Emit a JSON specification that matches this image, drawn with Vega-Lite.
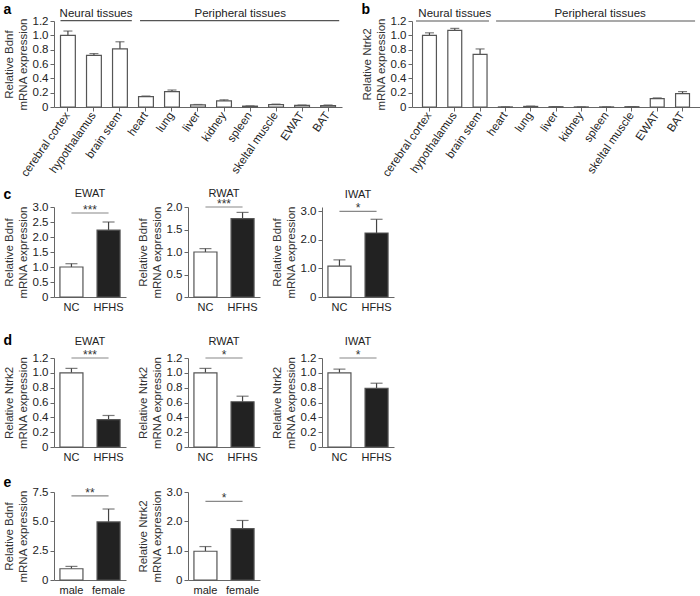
{
  "$schema": "https://vega.github.io/schema/vega-lite/v6.json",
  "padding": {"left": 3, "top": 2, "right": 2, "bottom": 2},
  "background": "white",
  "config": {
    "font": "Liberation Sans",
    "view": {"stroke": null},
    "axis": {"labelFont": "Liberation Sans", "labelFontSize": 11, "labelColor": "#222", "titleFont": "Liberation Sans", "titleFontSize": 11.5, "titleFontWeight": "normal", "titleColor": "#333", "domainColor": "#666", "tickColor": "#666", "grid": false, "tickSize": 4, "labelPadding": 2, "titlePadding": 4, "titleLineHeight": 13},
    "axisY": {"labelFontSize": 11.5, "titleFontSize": 11.5, "titleLineHeight": 13.5, "tickCount": 20},
    "title": {"font": "Liberation Sans", "fontSize": 11, "fontWeight": "normal", "color": "#222"}
  },
  "datasets": {
    "A": [
      {"tissue": "cerebral cortex", "mean": 1.0, "upper": 1.06},
      {"tissue": "hypothalamus", "mean": 0.72, "upper": 0.745},
      {"tissue": "brain stem", "mean": 0.81, "upper": 0.91},
      {"tissue": "heart", "mean": 0.144, "upper": 0.153},
      {"tissue": "lung", "mean": 0.214, "upper": 0.237},
      {"tissue": "liver", "mean": 0.03, "upper": 0.035},
      {"tissue": "kidney", "mean": 0.085, "upper": 0.1},
      {"tissue": "spleen", "mean": 0.012, "upper": 0.015},
      {"tissue": "skeltal muscle", "mean": 0.032, "upper": 0.04},
      {"tissue": "EWAT", "mean": 0.022, "upper": 0.027},
      {"tissue": "BAT", "mean": 0.018, "upper": 0.028}
    ],
    "B": [
      {"tissue": "cerebral cortex", "mean": 1.0, "upper": 1.035},
      {"tissue": "hypothalamus", "mean": 1.068, "upper": 1.097},
      {"tissue": "brain stem", "mean": 0.735, "upper": 0.81},
      {"tissue": "heart", "mean": 0.001, "upper": 0.002},
      {"tissue": "lung", "mean": 0.008, "upper": 0.012},
      {"tissue": "liver", "mean": 0.004, "upper": 0.006},
      {"tissue": "kidney", "mean": 0.001, "upper": 0.002},
      {"tissue": "spleen", "mean": 0.001, "upper": 0.002},
      {"tissue": "skeltal muscle", "mean": 0.004, "upper": 0.006},
      {"tissue": "EWAT", "mean": 0.117, "upper": 0.127},
      {"tissue": "BAT", "mean": 0.187, "upper": 0.215}
    ],
    "grp": [
      {"start": "cerebral cortex", "end": "brain stem", "mid": "hypothalamus", "label": "Neural tissues"},
      {"start": "heart", "end": "BAT", "mid": "kidney", "label": "Peripheral tissues"}
    ],
    "cE": [{"group": "NC", "mean": 1.0, "upper": 1.11}, {"group": "HFHS", "mean": 2.23, "upper": 2.5}],
    "cR": [{"group": "NC", "mean": 1.0, "upper": 1.075}, {"group": "HFHS", "mean": 1.74, "upper": 1.88}],
    "cI": [{"group": "NC", "mean": 1.08, "upper": 1.3}, {"group": "HFHS", "mean": 2.24, "upper": 2.72}],
    "dE": [{"group": "NC", "mean": 1.0, "upper": 1.06}, {"group": "HFHS", "mean": 0.37, "upper": 0.425}],
    "dR": [{"group": "NC", "mean": 1.0, "upper": 1.06}, {"group": "HFHS", "mean": 0.61, "upper": 0.685}],
    "dI": [{"group": "NC", "mean": 1.0, "upper": 1.05}, {"group": "HFHS", "mean": 0.79, "upper": 0.86}],
    "eB": [{"group": "male", "mean": 0.96, "upper": 1.16}, {"group": "female", "mean": 4.95, "upper": 6.05}],
    "eN": [{"group": "male", "mean": 0.98, "upper": 1.14}, {"group": "female", "mean": 1.75, "upper": 2.03}],
    "s3": [{"g1": "NC", "g2": "HFHS", "label": "***"}],
    "s1": [{"g1": "NC", "g2": "HFHS", "label": "*"}],
    "m2": [{"g1": "male", "g2": "female", "label": "**"}],
    "m1": [{"g1": "male", "g2": "female", "label": "*"}]
  },
  "spacing": 9,
  "vconcat": [
    {
      "hconcat": [
        {
          "width": 288, "height": 86,
          "title": {"text": "a", "anchor": "start", "fontWeight": "bold", "fontSize": 14, "color": "#000", "offset": -9},
          "layer": [
            {"data": {"name": "A"}, "mark": {"type": "rule", "color": "#444", "strokeWidth": 1.2},
             "encoding": {
               "x": {"field": "tissue", "type": "nominal", "scale": {"domain": ["cerebral cortex","hypothalamus","brain stem","heart","lung","liver","kidney","spleen","skeltal muscle","EWAT","BAT"], "paddingInner": 0.43, "paddingOuter": 0.25}, "axis": {"title": null, "labelAngle": -55, "labelFontSize": 11.5}},
               "y": {"field": "mean", "type": "quantitative", "scale": {"domain": [0, 1.2], "nice": false}, "axis": {"values": [0, 0.2, 0.4, 0.6, 0.8, 1.0, 1.2], "tickCount": 20, "labelExpr": "datum.value === 0 ? '0' : format(datum.value, '.1f')", "title": ["Relative Bdnf", "mRNA expression"]}},
               "y2": {"field": "upper"}}},
            {"data": {"name": "A"}, "mark": {"type": "tick", "color": "#444", "thickness": 1.2, "size": 9},
             "encoding": {"x": {"field": "tissue", "type": "nominal"}, "y": {"field": "upper", "type": "quantitative"}}},
            {"data": {"name": "A"}, "mark": {"type": "bar", "fill": "#ffffff", "stroke": "#555", "strokeWidth": 1.2},
             "encoding": {"x": {"field": "tissue", "type": "nominal"}, "y": {"field": "mean", "type": "quantitative"}}},
            {"data": {"name": "grp"}, "transform": [{"filter": "datum.label === 'Neural tissues'"}], "mark": {"type": "rule", "color": "#555", "strokeWidth": 1.2},
             "encoding": {"x": {"field": "start", "type": "nominal", "bandPosition": 0}, "x2": {"field": "end", "bandPosition": 1.3}, "y": {"datum": 1.205}}},
            {"data": {"name": "grp"}, "transform": [{"filter": "datum.label === 'Peripheral tissues'"}], "mark": {"type": "rule", "color": "#555", "strokeWidth": 1.2},
             "encoding": {"x": {"field": "start", "type": "nominal", "bandPosition": 0.1}, "x2": {"field": "end", "bandPosition": 1.25}, "y": {"datum": 1.205}}},
            {"data": {"name": "grp"}, "transform": [{"filter": "datum.label === 'Neural tissues'"}], "mark": {"type": "text", "fontSize": 11.5, "color": "#222", "baseline": "alphabetic"},
             "encoding": {"x": {"field": "mid", "type": "nominal", "bandPosition": 0.64}, "y": {"datum": 1.26}, "text": {"field": "label"}}},
            {"data": {"name": "grp"}, "transform": [{"filter": "datum.label === 'Peripheral tissues'"}], "mark": {"type": "text", "fontSize": 11.5, "color": "#222", "baseline": "alphabetic"},
             "encoding": {"x": {"field": "mid", "type": "nominal", "bandPosition": 1.59}, "y": {"datum": 1.26}, "text": {"field": "label"}}}
          ]
        },
        {
          "width": 288, "height": 86,
          "title": {"text": "b", "anchor": "start", "fontWeight": "bold", "fontSize": 14, "color": "#000", "offset": -9},
          "layer": [
            {"data": {"name": "B"}, "mark": {"type": "rule", "color": "#444", "strokeWidth": 1.2},
             "encoding": {
               "x": {"field": "tissue", "type": "nominal", "scale": {"domain": ["cerebral cortex","hypothalamus","brain stem","heart","lung","liver","kidney","spleen","skeltal muscle","EWAT","BAT"], "paddingInner": 0.45, "paddingOuter": 0.415}, "axis": {"title": null, "labelAngle": -55, "labelFontSize": 11.5}},
               "y": {"field": "mean", "type": "quantitative", "scale": {"domain": [0, 1.2], "nice": false}, "axis": {"values": [0, 0.2, 0.4, 0.6, 0.8, 1.0, 1.2], "tickCount": 20, "labelExpr": "datum.value === 0 ? '0' : format(datum.value, '.1f')", "title": ["Relative Ntrk2", "mRNA expression"]}},
               "y2": {"field": "upper"}}},
            {"data": {"name": "B"}, "mark": {"type": "tick", "color": "#444", "thickness": 1.2, "size": 9},
             "encoding": {"x": {"field": "tissue", "type": "nominal"}, "y": {"field": "upper", "type": "quantitative"}}},
            {"data": {"name": "B"}, "mark": {"type": "bar", "fill": "#ffffff", "stroke": "#555", "strokeWidth": 1.2},
             "encoding": {"x": {"field": "tissue", "type": "nominal"}, "y": {"field": "mean", "type": "quantitative"}}},
            {"data": {"name": "grp"}, "transform": [{"filter": "datum.label === 'Neural tissues'"}], "mark": {"type": "rule", "color": "#555", "strokeWidth": 1.2},
             "encoding": {"x": {"field": "start", "type": "nominal", "bandPosition": -0.47}, "x2": {"field": "end", "bandPosition": 1.14}, "y": {"datum": 1.2}}},
            {"data": {"name": "grp"}, "transform": [{"filter": "datum.label === 'Peripheral tissues'"}], "mark": {"type": "rule", "color": "#555", "strokeWidth": 1.2},
             "encoding": {"x": {"field": "start", "type": "nominal", "bandPosition": -0.17}, "x2": {"field": "end", "bandPosition": 1.4}, "y": {"datum": 1.2}}},
            {"data": {"name": "grp"}, "transform": [{"filter": "datum.label === 'Neural tissues'"}], "mark": {"type": "text", "fontSize": 11.5, "color": "#222", "baseline": "alphabetic"},
             "encoding": {"x": {"field": "mid", "type": "nominal", "bandPosition": 0.5}, "y": {"datum": 1.26}, "text": {"field": "label"}}},
            {"data": {"name": "grp"}, "transform": [{"filter": "datum.label === 'Peripheral tissues'"}], "mark": {"type": "text", "fontSize": 11.5, "color": "#222", "baseline": "alphabetic"},
             "encoding": {"x": {"field": "mid", "type": "nominal", "bandPosition": 1.85}, "y": {"datum": 1.26}, "text": {"field": "label"}}}
          ]
        }
      ],
      "spacing": 70,
      "bounds": "flush"
    },
    {
      "spacing": 22,
      "vconcat": [
        {
          "title": {"text": "c", "anchor": "start", "fontWeight": "bold", "fontSize": 14, "color": "#000", "offset": -14},
          "spacing": 62,
          "bounds": "flush",
          "hconcat": [
            {
              "width": 72, "height": 90,
              "title": {"text": "EWAT", "anchor": "middle", "frame": "group", "offset": 2},
              "layer": [
                {"data": {"name": "cE"}, "mark": {"type": "rule", "color": "#444", "strokeWidth": 1.2},
                 "encoding": {"x": {"field": "group", "type": "nominal", "scale": {"domain": ["NC", "HFHS"], "paddingInner": 0.38, "paddingOuter": 0.16}, "axis": {"title": null, "labelAngle": 0, "ticks": false, "labelPadding": 4, "labelFontSize": 11}},
                   "y": {"field": "mean", "type": "quantitative", "scale": {"domain": [0, 3], "nice": false}, "axis": {"values": [0, 0.5, 1, 1.5, 2, 2.5, 3], "tickCount": 20, "labelExpr": "datum.value === 0 ? '0' : format(datum.value, '.1f')", "title": ["Relative Bdnf", "mRNA expression"]}},
                   "y2": {"field": "upper"}}},
                {"data": {"name": "cE"}, "mark": {"type": "tick", "color": "#444", "thickness": 1.2, "size": 12},
                 "encoding": {"x": {"field": "group", "type": "nominal"}, "y": {"field": "upper", "type": "quantitative"}}},
                {"data": {"name": "cE"}, "mark": {"type": "bar", "stroke": "#555", "strokeWidth": 1.2},
                 "encoding": {"x": {"field": "group", "type": "nominal"}, "y": {"field": "mean", "type": "quantitative"}, "fill": {"condition": {"test": "datum.group === 'NC'", "value": "#ffffff"}, "value": "#222222"}}},
                {"data": {"name": "s3"}, "mark": {"type": "rule", "color": "#888", "strokeWidth": 1.2},
                 "encoding": {"x": {"field": "g1", "type": "nominal"}, "x2": {"field": "g2"}, "y": {"datum": 2.8}}},
                {"data": {"name": "s3"}, "mark": {"type": "text", "fontSize": 12, "color": "#333", "baseline": "alphabetic", "dy": 1},
                 "encoding": {"x": {"field": "g1", "type": "nominal", "bandPosition": 1.306}, "y": {"datum": 2.8}, "text": {"field": "label"}}}
              ]
            },
            {
              "width": 72, "height": 90,
              "title": {"text": "RWAT", "anchor": "middle", "frame": "group", "offset": -1},
              "layer": [
                {"data": {"name": "cR"}, "mark": {"type": "rule", "color": "#444", "strokeWidth": 1.2},
                 "encoding": {"x": {"field": "group", "type": "nominal", "scale": {"domain": ["NC", "HFHS"], "paddingInner": 0.38, "paddingOuter": 0.16}, "axis": {"title": null, "labelAngle": 0, "ticks": false, "labelPadding": 4, "labelFontSize": 11}},
                   "y": {"field": "mean", "type": "quantitative", "scale": {"domain": [0, 2], "nice": false}, "axis": {"values": [0, 0.5, 1, 1.5, 2], "tickCount": 20, "labelExpr": "datum.value === 0 ? '0' : format(datum.value, '.1f')", "title": ["Relative Bdnf", "mRNA expression"]}},
                   "y2": {"field": "upper"}}},
                {"data": {"name": "cR"}, "mark": {"type": "tick", "color": "#444", "thickness": 1.2, "size": 12},
                 "encoding": {"x": {"field": "group", "type": "nominal"}, "y": {"field": "upper", "type": "quantitative"}}},
                {"data": {"name": "cR"}, "mark": {"type": "bar", "stroke": "#555", "strokeWidth": 1.2},
                 "encoding": {"x": {"field": "group", "type": "nominal"}, "y": {"field": "mean", "type": "quantitative"}, "fill": {"condition": {"test": "datum.group === 'NC'", "value": "#ffffff"}, "value": "#222222"}}},
                {"data": {"name": "s3"}, "mark": {"type": "rule", "color": "#888", "strokeWidth": 1.2},
                 "encoding": {"x": {"field": "g1", "type": "nominal"}, "x2": {"field": "g2"}, "y": {"datum": 2.0}}},
                {"data": {"name": "s3"}, "mark": {"type": "text", "fontSize": 12, "color": "#333", "baseline": "alphabetic", "dy": 1},
                 "encoding": {"x": {"field": "g1", "type": "nominal", "bandPosition": 1.306}, "y": {"datum": 2.0}, "text": {"field": "label"}}}
              ]
            },
            {
              "width": 72, "height": 90,
              "title": {"text": "IWAT", "anchor": "middle", "frame": "group", "offset": 2},
              "layer": [
                {"data": {"name": "cI"}, "mark": {"type": "rule", "color": "#444", "strokeWidth": 1.2},
                 "encoding": {"x": {"field": "group", "type": "nominal", "scale": {"domain": ["NC", "HFHS"], "paddingInner": 0.38, "paddingOuter": 0.16}, "axis": {"title": null, "labelAngle": 0, "ticks": false, "labelPadding": 4, "labelFontSize": 11}},
                   "y": {"field": "mean", "type": "quantitative", "scale": {"domain": [0, 3.15], "nice": false}, "axis": {"values": [0, 1, 2, 3], "tickCount": 20, "labelExpr": "datum.value === 0 ? '0' : format(datum.value, '.1f')", "title": ["Relative Bdnf", "mRNA expression"]}},
                   "y2": {"field": "upper"}}},
                {"data": {"name": "cI"}, "mark": {"type": "tick", "color": "#444", "thickness": 1.2, "size": 12},
                 "encoding": {"x": {"field": "group", "type": "nominal"}, "y": {"field": "upper", "type": "quantitative"}}},
                {"data": {"name": "cI"}, "mark": {"type": "bar", "stroke": "#555", "strokeWidth": 1.2},
                 "encoding": {"x": {"field": "group", "type": "nominal"}, "y": {"field": "mean", "type": "quantitative"}, "fill": {"condition": {"test": "datum.group === 'NC'", "value": "#ffffff"}, "value": "#222222"}}},
                {"data": {"name": "s1"}, "mark": {"type": "rule", "color": "#888", "strokeWidth": 1.2},
                 "encoding": {"x": {"field": "g1", "type": "nominal"}, "x2": {"field": "g2"}, "y": {"datum": 3.0}}},
                {"data": {"name": "s1"}, "mark": {"type": "text", "fontSize": 12, "color": "#333", "baseline": "alphabetic", "dy": 1},
                 "encoding": {"x": {"field": "g1", "type": "nominal", "bandPosition": 1.306}, "y": {"datum": 3.0}, "text": {"field": "label"}}}
              ]
            }
          ]
        },
        {
          "spacing": 14,
          "vconcat": [
            {
              "title": {"text": "d", "anchor": "start", "fontWeight": "bold", "fontSize": 14, "color": "#000", "offset": -12},
              "spacing": 62,
              "bounds": "flush",
              "hconcat": [
                {
                  "width": 72, "height": 89,
                  "title": {"text": "EWAT", "anchor": "middle", "frame": "group", "offset": 2},
                  "layer": [
                    {"data": {"name": "dE"}, "mark": {"type": "rule", "color": "#444", "strokeWidth": 1.2},
                     "encoding": {"x": {"field": "group", "type": "nominal", "scale": {"domain": ["NC", "HFHS"], "paddingInner": 0.38, "paddingOuter": 0.16}, "axis": {"title": null, "labelAngle": 0, "ticks": false, "labelPadding": 4, "labelFontSize": 11}},
                       "y": {"field": "mean", "type": "quantitative", "scale": {"domain": [0, 1.2], "nice": false}, "axis": {"values": [0, 0.2, 0.4, 0.6, 0.8, 1.0, 1.2], "tickCount": 20, "labelExpr": "datum.value === 0 ? '0' : format(datum.value, '.1f')", "title": ["Relative Ntrk2", "mRNA expression"]}},
                       "y2": {"field": "upper"}}},
                    {"data": {"name": "dE"}, "mark": {"type": "tick", "color": "#444", "thickness": 1.2, "size": 12},
                     "encoding": {"x": {"field": "group", "type": "nominal"}, "y": {"field": "upper", "type": "quantitative"}}},
                    {"data": {"name": "dE"}, "mark": {"type": "bar", "stroke": "#555", "strokeWidth": 1.2},
                     "encoding": {"x": {"field": "group", "type": "nominal"}, "y": {"field": "mean", "type": "quantitative"}, "fill": {"condition": {"test": "datum.group === 'NC'", "value": "#ffffff"}, "value": "#222222"}}},
                    {"data": {"name": "s3"}, "mark": {"type": "rule", "color": "#888", "strokeWidth": 1.2},
                     "encoding": {"x": {"field": "g1", "type": "nominal"}, "x2": {"field": "g2"}, "y": {"datum": 1.2}}},
                    {"data": {"name": "s3"}, "mark": {"type": "text", "fontSize": 12, "color": "#333", "baseline": "alphabetic", "dy": 1},
                     "encoding": {"x": {"field": "g1", "type": "nominal", "bandPosition": 1.306}, "y": {"datum": 1.2}, "text": {"field": "label"}}}
                  ]
                },
                {
                  "width": 72, "height": 89,
                  "title": {"text": "RWAT", "anchor": "middle", "frame": "group", "offset": 2},
                  "layer": [
                    {"data": {"name": "dR"}, "mark": {"type": "rule", "color": "#444", "strokeWidth": 1.2},
                     "encoding": {"x": {"field": "group", "type": "nominal", "scale": {"domain": ["NC", "HFHS"], "paddingInner": 0.38, "paddingOuter": 0.16}, "axis": {"title": null, "labelAngle": 0, "ticks": false, "labelPadding": 4, "labelFontSize": 11}},
                       "y": {"field": "mean", "type": "quantitative", "scale": {"domain": [0, 1.2], "nice": false}, "axis": {"values": [0, 0.2, 0.4, 0.6, 0.8, 1.0, 1.2], "tickCount": 20, "labelExpr": "datum.value === 0 ? '0' : format(datum.value, '.1f')", "title": ["Relative Ntrk2", "mRNA expression"]}},
                       "y2": {"field": "upper"}}},
                    {"data": {"name": "dR"}, "mark": {"type": "tick", "color": "#444", "thickness": 1.2, "size": 12},
                     "encoding": {"x": {"field": "group", "type": "nominal"}, "y": {"field": "upper", "type": "quantitative"}}},
                    {"data": {"name": "dR"}, "mark": {"type": "bar", "stroke": "#555", "strokeWidth": 1.2},
                     "encoding": {"x": {"field": "group", "type": "nominal"}, "y": {"field": "mean", "type": "quantitative"}, "fill": {"condition": {"test": "datum.group === 'NC'", "value": "#ffffff"}, "value": "#222222"}}},
                    {"data": {"name": "s1"}, "mark": {"type": "rule", "color": "#888", "strokeWidth": 1.2},
                     "encoding": {"x": {"field": "g1", "type": "nominal"}, "x2": {"field": "g2"}, "y": {"datum": 1.2}}},
                    {"data": {"name": "s1"}, "mark": {"type": "text", "fontSize": 12, "color": "#333", "baseline": "alphabetic", "dy": 1},
                     "encoding": {"x": {"field": "g1", "type": "nominal", "bandPosition": 1.306}, "y": {"datum": 1.2}, "text": {"field": "label"}}}
                  ]
                },
                {
                  "width": 72, "height": 89,
                  "title": {"text": "IWAT", "anchor": "middle", "frame": "group", "offset": 2},
                  "layer": [
                    {"data": {"name": "dI"}, "mark": {"type": "rule", "color": "#444", "strokeWidth": 1.2},
                     "encoding": {"x": {"field": "group", "type": "nominal", "scale": {"domain": ["NC", "HFHS"], "paddingInner": 0.38, "paddingOuter": 0.16}, "axis": {"title": null, "labelAngle": 0, "ticks": false, "labelPadding": 4, "labelFontSize": 11}},
                       "y": {"field": "mean", "type": "quantitative", "scale": {"domain": [0, 1.2], "nice": false}, "axis": {"values": [0, 0.2, 0.4, 0.6, 0.8, 1.0, 1.2], "tickCount": 20, "labelExpr": "datum.value === 0 ? '0' : format(datum.value, '.1f')", "title": ["Relative Ntrk2", "mRNA expression"]}},
                       "y2": {"field": "upper"}}},
                    {"data": {"name": "dI"}, "mark": {"type": "tick", "color": "#444", "thickness": 1.2, "size": 12},
                     "encoding": {"x": {"field": "group", "type": "nominal"}, "y": {"field": "upper", "type": "quantitative"}}},
                    {"data": {"name": "dI"}, "mark": {"type": "bar", "stroke": "#555", "strokeWidth": 1.2},
                     "encoding": {"x": {"field": "group", "type": "nominal"}, "y": {"field": "mean", "type": "quantitative"}, "fill": {"condition": {"test": "datum.group === 'NC'", "value": "#ffffff"}, "value": "#222222"}}},
                    {"data": {"name": "s1"}, "mark": {"type": "rule", "color": "#888", "strokeWidth": 1.2},
                     "encoding": {"x": {"field": "g1", "type": "nominal"}, "x2": {"field": "g2"}, "y": {"datum": 1.2}}},
                    {"data": {"name": "s1"}, "mark": {"type": "text", "fontSize": 12, "color": "#333", "baseline": "alphabetic", "dy": 1},
                     "encoding": {"x": {"field": "g1", "type": "nominal", "bandPosition": 1.306}, "y": {"datum": 1.2}, "text": {"field": "label"}}}
                  ]
                }
              ]
            },
            {
              "title": {"text": "e", "anchor": "start", "fontWeight": "bold", "fontSize": 14, "color": "#000", "offset": -4},
              "spacing": 62,
              "bounds": "flush",
              "hconcat": [
                {
                  "width": 72, "height": 88,
                  "layer": [
                    {"data": {"name": "eB"}, "mark": {"type": "rule", "color": "#444", "strokeWidth": 1.2},
                     "encoding": {"x": {"field": "group", "type": "nominal", "scale": {"domain": ["male", "female"], "paddingInner": 0.38, "paddingOuter": 0.16}, "axis": {"title": null, "labelAngle": 0, "ticks": false, "labelPadding": 4, "labelFontSize": 11}},
                       "y": {"field": "mean", "type": "quantitative", "scale": {"domain": [0, 7.5], "nice": false}, "axis": {"values": [0, 2.5, 5, 7.5], "tickCount": 20, "labelExpr": "datum.value === 0 ? '0' : format(datum.value, '.1f')", "title": ["Relative Bdnf", "mRNA expression"]}},
                       "y2": {"field": "upper"}}},
                    {"data": {"name": "eB"}, "mark": {"type": "tick", "color": "#444", "thickness": 1.2, "size": 12},
                     "encoding": {"x": {"field": "group", "type": "nominal"}, "y": {"field": "upper", "type": "quantitative"}}},
                    {"data": {"name": "eB"}, "mark": {"type": "bar", "stroke": "#555", "strokeWidth": 1.2},
                     "encoding": {"x": {"field": "group", "type": "nominal"}, "y": {"field": "mean", "type": "quantitative"}, "fill": {"condition": {"test": "datum.group === 'male'", "value": "#ffffff"}, "value": "#222222"}}},
                    {"data": {"name": "m2"}, "mark": {"type": "rule", "color": "#888", "strokeWidth": 1.2},
                     "encoding": {"x": {"field": "g1", "type": "nominal"}, "x2": {"field": "g2"}, "y": {"datum": 7.17}}},
                    {"data": {"name": "m2"}, "mark": {"type": "text", "fontSize": 12, "color": "#333", "baseline": "alphabetic", "dy": 1},
                     "encoding": {"x": {"field": "g1", "type": "nominal", "bandPosition": 1.306}, "y": {"datum": 7.17}, "text": {"field": "label"}}}
                  ]
                },
                {
                  "width": 72, "height": 88,
                  "layer": [
                    {"data": {"name": "eN"}, "mark": {"type": "rule", "color": "#444", "strokeWidth": 1.2},
                     "encoding": {"x": {"field": "group", "type": "nominal", "scale": {"domain": ["male", "female"], "paddingInner": 0.38, "paddingOuter": 0.16}, "axis": {"title": null, "labelAngle": 0, "ticks": false, "labelPadding": 4, "labelFontSize": 11}},
                       "y": {"field": "mean", "type": "quantitative", "scale": {"domain": [0, 3], "nice": false}, "axis": {"values": [0, 1, 2, 3], "tickCount": 20, "labelExpr": "datum.value === 0 ? '0' : format(datum.value, '.1f')", "title": ["Relative Ntrk2", "mRNA expression"]}},
                       "y2": {"field": "upper"}}},
                    {"data": {"name": "eN"}, "mark": {"type": "tick", "color": "#444", "thickness": 1.2, "size": 12},
                     "encoding": {"x": {"field": "group", "type": "nominal"}, "y": {"field": "upper", "type": "quantitative"}}},
                    {"data": {"name": "eN"}, "mark": {"type": "bar", "stroke": "#555", "strokeWidth": 1.2},
                     "encoding": {"x": {"field": "group", "type": "nominal"}, "y": {"field": "mean", "type": "quantitative"}, "fill": {"condition": {"test": "datum.group === 'male'", "value": "#ffffff"}, "value": "#222222"}}},
                    {"data": {"name": "m1"}, "mark": {"type": "rule", "color": "#888", "strokeWidth": 1.2},
                     "encoding": {"x": {"field": "g1", "type": "nominal"}, "x2": {"field": "g2"}, "y": {"datum": 2.68}}},
                    {"data": {"name": "m1"}, "mark": {"type": "text", "fontSize": 12, "color": "#333", "baseline": "alphabetic", "dy": 1},
                     "encoding": {"x": {"field": "g1", "type": "nominal", "bandPosition": 1.306}, "y": {"datum": 2.68}, "text": {"field": "label"}}}
                  ]
                }
              ]
            }
          ]
        }
      ]
    }
  ]
}
